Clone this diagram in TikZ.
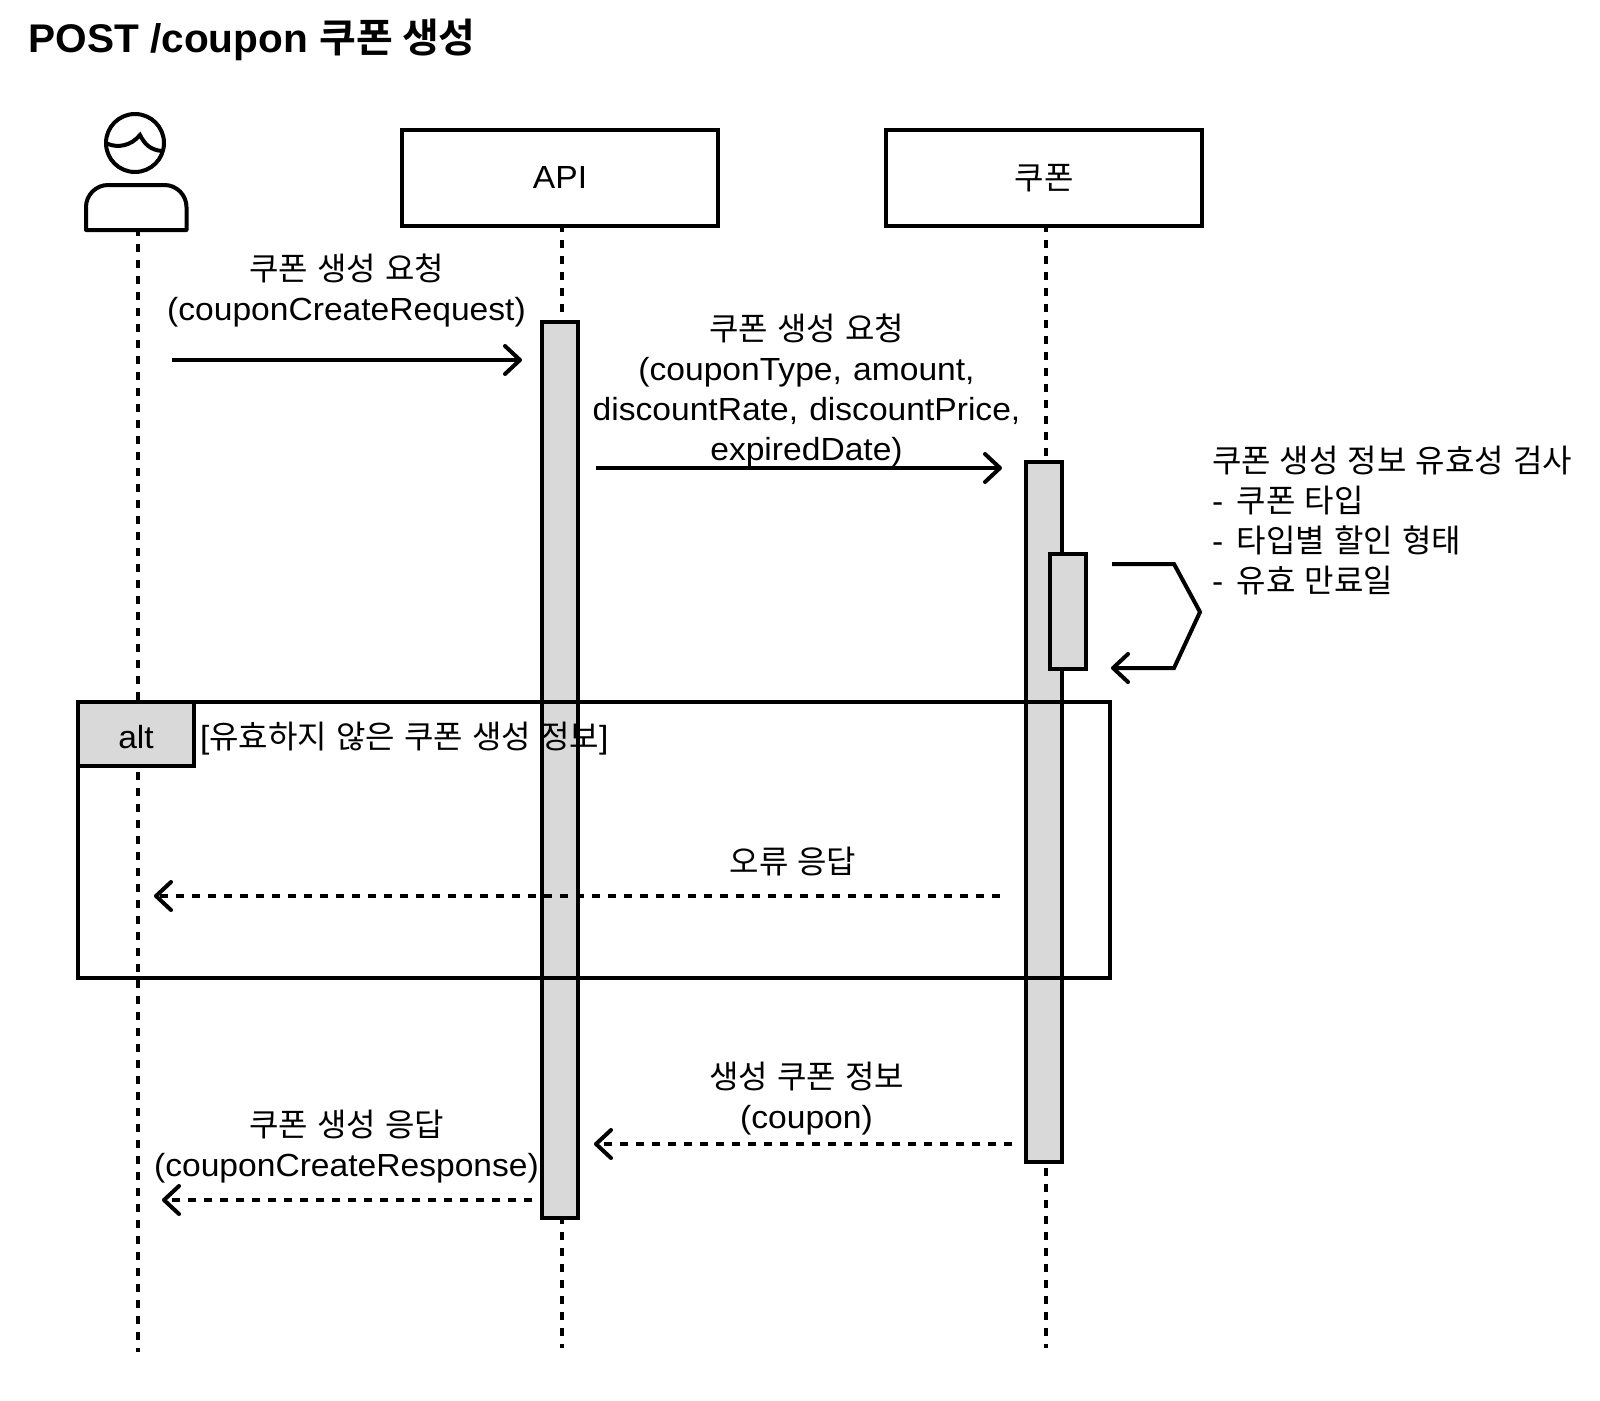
\documentclass[tikz,border=0pt]{standalone}
\usepackage{fontspec}
\usetikzlibrary{arrows.meta}
\setmainfont{Liberation Sans}[FakeStretch=1.05,WordSpace=1.2]
\newfontfamily\titlef{Liberation Sans Bold}[FakeStretch=1.015]
\newfontfamily\krf{Noto Sans CJK KR}[WordSpace=1.27]
\newfontfamily\krbf{Noto Sans CJK KR Bold}
\newcommand\kr[1]{{\krf #1}}
\newcommand\dashitem{-\kern2.5pt\ }
\definecolor{actgray}{HTML}{D9D9D9}
\tikzset{
  x=1pt,y=-1pt,
  every node/.style={font=\fontsize{32}{40}\selectfont,inner sep=0pt,outer sep=0pt,text=black},
  heavy/.style={draw=black,line width=4pt},
  partbox/.style={heavy,fill=white,minimum width=316pt,minimum height=96pt},
  actbox/.style={heavy,fill=actgray,minimum width=36pt},
  lifeline/.style={black,line width=4pt,dash pattern=on 8pt off 8pt},
  msg/.style={black,line width=4pt,-{Straight Barb[length=15pt,width=28pt,round]}},
  msgdash/.style={msg,dash pattern=on 8pt off 8pt},
  lab/.style={align=center},
  note/.style={align=left,anchor=north west}
}
\begin{document}
\begin{tikzpicture}
\useasboundingbox (0,0) rectangle (1600,1400);
% title
\node[anchor=base west,font=\fontsize{40}{48}\selectfont\titlef] (title) at (28.5,52) {POST /coupon {\krbf 쿠폰 생성}};
% participants
\node[partbox] (api) at (560,178) {\raisebox{1pt}{API}};
\node[partbox] (cp) at (1044,178) {\kr{쿠폰}};
% actor
\draw[heavy] (135,143) circle[radius=29];
\draw[black,line width=4pt,line cap=round] (108,144) .. controls (118,148) and (131,146) .. (140,135) .. controls (145,145) and (151,150) .. (162,151);
\draw[heavy,line join=round] (86,230) -- (86,207) .. controls (86,195) and (96,185) .. (108,185) -- (164.5,185) .. controls (176.5,185) and (186.5,195) .. (186.5,207) -- (186.5,230) -- cycle;
% lifelines
\coordinate (afoot) at (138,232);
\coordinate (aend) at (138,1352);
\coordinate (apiend) at (562,1348);
\coordinate (cpend) at (1046,1348);
\coordinate (apitop) at (562,228);
\coordinate (cptop) at (1046,228);
\draw[lifeline,dash phase=4pt] (afoot) -- (aend);
\draw[lifeline,dash phase=4pt] (apitop) -- (apiend);
\draw[lifeline,dash phase=4pt] (cptop) -- (cpend);
% activations
\node[actbox,minimum height=896pt] (a1) at (560,770) {};
\node[actbox,minimum height=700pt] (c1) at (1044,812) {};
\node[actbox,minimum height=115pt] (c2) at (1068,611.5) {};
% alt frame
\node[draw=black,line width=4pt,minimum width=1032pt,minimum height=276pt] (frame) at (594,840) {};
\node[heavy,fill=actgray,minimum width=116pt,minimum height=64pt] (tab) at (136,734) {\raisebox{-14.5pt}[0pt][0pt]{alt}};
% messages
\coordinate (m1s) at (172,360); \coordinate (m1e) at (522,360);
\draw[msg] (m1s) -- (m1e);
\coordinate (m2s) at (596,468); \coordinate (m2e) at (1002,468);
\draw[msg] (m2s) -- (m2e);
\coordinate (l1) at (1112,564); \coordinate (l2) at (1174,564); \coordinate (l3) at (1200,612); \coordinate (l4) at (1174,668); \coordinate (l5) at (1111,668);
\draw[msg,line join=miter] (l1) -- (l2) -- (l3) -- (l4) -- (l5);
\coordinate (e1) at (1000,896); \coordinate (e2) at (154,896);
\draw[msgdash] (e1) -- (e2);
\coordinate (r1s) at (1012,1144); \coordinate (r1e) at (594,1144);
\draw[msgdash] (r1s) -- (r1e);
\coordinate (r2s) at (532,1200); \coordinate (r2e) at (162,1200);
\draw[msgdash] (r2s) -- (r2e);
% labels
\node[lab] (t1) at (346.5,291) {\kr{쿠폰 생성 요청}\\(couponCreateRequest)};
\node[lab] (t2) at (806.5,391) {\kr{쿠폰 생성 요청}\\(couponType, amount,\\discountRate, discountPrice,\\expiredDate)};
\node[note] (t3) at (1212,446) {\kr{쿠폰 생성 정보 유효성 검사}\\\dashitem\kr{쿠폰 타입}\\\dashitem\kr{타입별 할인 형태}\\\dashitem\kr{유효 만료일}};
\node[anchor=west] (t4) at (200,739) {[\kr{유효하지 않은 쿠폰 생성 정보}]};
\node (t5) at (793,862) {\kr{오류 응답}};
\node[lab] (t6) at (806.5,1099) {\kr{생성 쿠폰 정보}\\(coupon)};
\node[lab] (t7) at (346.5,1147) {\kr{쿠폰 생성 응답}\\(couponCreateResponse)};
\end{tikzpicture}
\end{document}
